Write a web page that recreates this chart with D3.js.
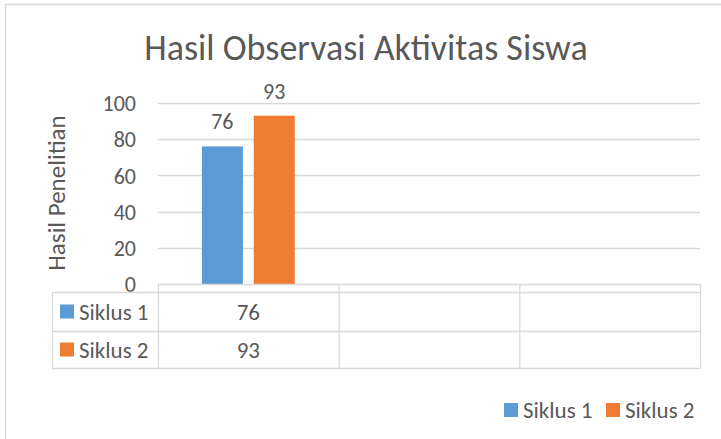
<!DOCTYPE html>
<html>
<head>
<meta charset="utf-8">
<script src="https://cdn.jsdelivr.net/npm/d3@7"></script>
<style>
  body { margin: 0; background: #fff; }
  svg text { font-family: Carlito, Calibri, "Open Sans", sans-serif; fill: #595959; }
</style>
</head>
<body>
<svg width="721" height="439"></svg>
<script>
const title = "Hasil Observasi Aktivitas Siswa";
const y_title = "Hasil Penelitian";
const categories = ["c1", "c2", "c3"];
const series = ["Siklus 1", "Siklus 2"];
const siklus1 = [76, null, null];
const siklus2 = [93, null, null];
const y_ticks = [0, 20, 40, 60, 80, 100];
const colors = ["#5b9bd5", "#ed7d31"];

const grid_col = "#d9d9d9";
const values = [siklus1, siklus2];

function init(){
  var svg = d3.select("svg");

  // frame of the chart area (left and top edges visible)
  svg.append("path")
     .attr("d", "M5.5,445V4.5H730")
     .style("fill", "none")
     .style("stroke", grid_col)
     .style("stroke-width", 1.3);

  svg.append("text")
     .attr("x", 366)
     .attr("y", 60)
     .attr("text-anchor", "middle")
     .style("font-size", "36px")
     .text(title);

  var x0 = d3.scaleBand().domain(categories).range([158, 700]).padding(0);
  var x1 = d3.scaleBand().domain(series).range([0, x0.bandwidth()])
             .paddingInner(0.21).paddingOuter(0.846);
  var y = d3.scaleLinear().domain([0, 100]).range([284, 103]);

  // gridlines
  svg.append("g").selectAll("line").data(y_ticks.filter(d => d > 0)).join("line")
     .attr("x1", 158).attr("x2", 700)
     .attr("y1", d => Math.round(y(d)) + .5).attr("y2", d => Math.round(y(d)) + .5)
     .style("stroke", grid_col).style("stroke-width", 1.3);

  // y axis labels
  var yAxis = d3.axisLeft(y).tickValues(y_ticks).tickSize(0).tickPadding(22);
  var ya = svg.append("g").attr("transform", "translate(158,0)").call(yAxis);
  ya.select(".domain").remove();
  ya.selectAll("text").style("font-size", "22px").attr("dy", "0.35em");

  svg.append("text")
     .attr("transform", "translate(65,193) rotate(-90)")
     .attr("text-anchor", "middle")
     .style("font-size", "25px")
     .text(y_title);

  // bars
  var g = svg.append("g");
  series.forEach(function(s, i){
    categories.forEach(function(c, j){
      var v = values[i][j];
      if (v == null) return;
      var bx = x0(c) + x1(s);
      g.append("rect")
       .attr("x", bx).attr("y", y(v))
       .attr("width", x1.bandwidth()).attr("height", y(0) - y(v))
       .style("fill", colors[i]);
      g.append("text")
       .attr("x", bx + x1.bandwidth()/2).attr("y", y(v) - 17)
       .attr("text-anchor", "middle")
       .style("font-size", "22px")
       .text(v);
    });
  });

  // data table
  var rowY = [292, 331, 368];
  var table = svg.append("g").style("stroke", grid_col).style("stroke-width", 1.3);
  table.append("line").attr("x1", 158).attr("x2", 700).attr("y1", 284.5).attr("y2", 284.5);
  rowY.forEach(function(ry){
    table.append("line").attr("x1", 52).attr("x2", 700).attr("y1", ry + .5).attr("y2", ry + .5);
  });
  table.append("line").attr("x1", 52.5).attr("x2", 52.5).attr("y1", 292).attr("y2", 368.5);
  var edges = categories.map(c => x0(c)).concat([x0.range()[1]]);
  edges.forEach(function(ex){
    table.append("line").attr("x1", ex + .5).attr("x2", ex + .5).attr("y1", 284).attr("y2", 368.5);
  });

  series.forEach(function(s, i){
    var cy = (rowY[i] + rowY[i+1]) / 2;
    svg.append("rect").attr("x", 60).attr("y", cy - 7).attr("width", 14).attr("height", 14)
       .style("fill", colors[i]);
    svg.append("text").attr("x", 79).attr("y", cy).attr("dy", "0.35em")
       .style("font-size", "23px").text(s);
    categories.forEach(function(c, j){
      var v = values[i][j];
      if (v == null) return;
      svg.append("text").attr("x", x0(c) + x0.bandwidth()/2).attr("y", cy).attr("dy", "0.35em")
         .attr("text-anchor", "middle").style("font-size", "23px").text(v);
    });
  });

  // legend
  var legX = [504, 606];
  series.forEach(function(s, i){
    svg.append("rect").attr("x", legX[i]).attr("y", 403).attr("width", 14).attr("height", 14)
       .style("fill", colors[i]);
    svg.append("text").attr("x", legX[i] + 19).attr("y", 410).attr("dy", "0.35em")
       .style("font-size", "23px").text(s);
  });
}

window.addEventListener("load", init);
</script>
</body>
</html>
